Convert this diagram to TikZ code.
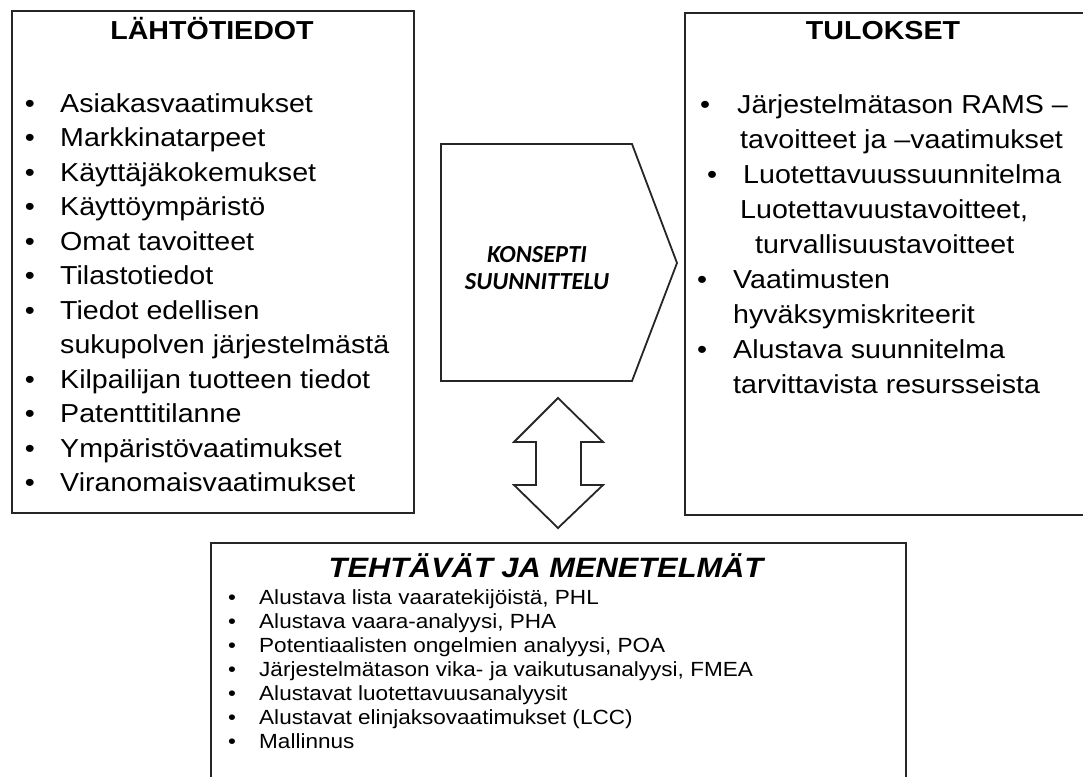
\documentclass[tikz,border=0pt]{standalone}
\usepackage{fontspec}
\setmainfont{Liberation Sans}
\newfontfamily\widesans[FakeStretch=1.1]{Liberation Sans}
\newfontfamily\calsans{Carlito}
\begin{document}
\begin{tikzpicture}[x=1pt,y=-1pt,
  frame/.style={draw=black!85, line width=1.8pt},
  bigtext/.style={inner sep=0pt, font=\widesans\fontsize{26}{31}\selectfont},
  item/.style={bigtext, anchor=base west},
  dot/.style={bigtext, anchor=base},
  heading/.style={inner sep=0pt, anchor=base, font=\widesans\bfseries\fontsize{26}{31}\selectfont},
  smalltext/.style={inner sep=0pt, font=\widesans\fontsize{20.5}{24}\selectfont},
  sitem/.style={smalltext, anchor=base west},
  sdot/.style={smalltext, anchor=base},
  hubtext/.style={inner sep=0pt, anchor=base, font=\calsans\bfseries\itshape\fontsize{24.5}{28}\selectfont}
]
\clip (0,0) rectangle (1083,776);
\fill[white] (0,0) rectangle (1083,776);

% input box
\node[frame, anchor=north west, minimum width=402pt, minimum height=502pt, inner sep=0pt] (inbox) at (11,10) {};
\node[heading] (intitle) at (212,40) {LÄHTÖTIEDOT};
\foreach \t [count=\i from 0] in {Asiakasvaatimukset, Markkinatarpeet, Käyttäjäkokemukset,
    Käyttöympäristö, Omat tavoitteet, Tilastotiedot, Tiedot edellisen, sukupolven järjestelmästä,
    Kilpailijan tuotteen tiedot, Patenttitilanne, Ympäristövaatimukset, Viranomaisvaatimukset}{
  \node[item] (in\i) at (60,{112+34.5*\i}) {\t};
}
\foreach \i in {0,1,2,3,4,5,6,8,9,10,11}{
  \node[dot] (inb\i) at (30,{112+34.5*\i}) {•};
}

% results box
\node[frame, anchor=north west, minimum width=420pt, minimum height=502pt, inner sep=0pt] (outbox) at (684,12) {};
\node[heading] (outtitle) at (883,40) {TULOKSET};
\node[dot] (outb1) at (705,113) {•};
\node[item] (out1) at (737,113) {Järjestelmätason RAMS –};
\node[item] (out2) at (740,148) {tavoitteet ja –vaatimukset};
\node[dot] (outb3) at (712,183) {•};
\node[item] (out3) at (743,183) {Luotettavuussuunnitelma};
\node[item] (out4) at (740,218) {Luotettavuustavoitteet,};
\node[item] (out5) at (755,253) {turvallisuustavoitteet};
\node[dot] (outb6) at (702,288) {•};
\node[item] (out6) at (733,288) {Vaatimusten};
\node[item] (out7) at (733,323) {hyväksymiskriteerit};
\node[dot] (outb8) at (702,358) {•};
\node[item] (out8) at (733,358) {Alustava suunnitelma};
\node[item] (out9) at (733,393) {tarvittavista resursseista};

% process arrow
\coordinate (pA) at (441,144);
\coordinate (pB) at (632,144);
\coordinate (pC) at (677,263);
\coordinate (pD) at (632,381);
\coordinate (pE) at (441,381);
\draw[frame, line join=miter] (pA) -- (pB) -- (pC) -- (pD) -- (pE) -- cycle;
\node[hubtext] (hub1) at (537,262) {KONSEPTI};
\node[hubtext] (hub2) at (537,289) {SUUNNITTELU};

% two-way arrow
\draw[frame, line join=miter] (558,398) -- (603,442) -- (581,442) -- (581,485) -- (603,485)
  -- (558,528) -- (514,485) -- (536,485) -- (536,442) -- (514,442) -- cycle;

% tasks box
\node[frame, anchor=north west, minimum width=695pt, minimum height=260pt, inner sep=0pt] (taskbox) at (210,542) {};
\node[inner sep=0pt, anchor=base, font=\widesans\bfseries\itshape\fontsize{28}{32}\selectfont] (tasktitle) at (546,577) {TEHTÄVÄT JA MENETELMÄT};
\foreach \t [count=\i from 0] in {{Alustava lista vaaratekijöistä, PHL},
    {Alustava vaara-analyysi, PHA},
    {Potentiaalisten ongelmien analyysi, POA},
    {Järjestelmätason vika- ja vaikutusanalyysi, FMEA},
    {Alustavat luotettavuusanalyysit},
    {Alustavat elinjaksovaatimukset (LCC)},
    {Mallinnus}}{
  \node[sdot] (tb\i) at (232,{604+24*\i}) {•};
  \node[sitem] (t\i) at (259,{604+24*\i}) {\t};
}
\end{tikzpicture}
\end{document}
